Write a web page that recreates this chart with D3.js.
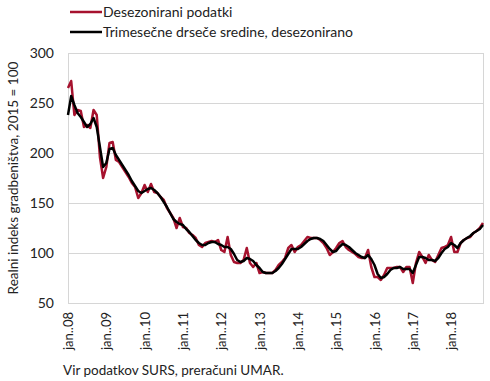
<!DOCTYPE html>
<html><head><meta charset="utf-8">
<script src="https://cdn.jsdelivr.net/npm/d3@7/dist/d3.min.js"></script>
<style>
html,body{margin:0;padding:0;background:#fff;}
svg text{font-family:Lato,"Noto Sans",sans-serif;fill:#222;}
</style></head>
<body><svg id="c" width="490" height="381"></svg>
<script>
const startYear = 2008;
const tickLabels = ["jan..08","jan..09","jan..10","jan..11","jan..12","jan..13","jan..14","jan..15","jan..16","jan..17","jan..18"];
const yTicks = [50,100,150,200,250,300];
const seriesNames = ["Desezonirani podatki","Trimesečne drseče sredine, desezonirano"];
const deseasonalized = [
265,272,238,243,242,226,228,225,243,238,196,175,
186,210,211,193,191,186,181,176,170,166,155,160,
168,161,169,161,160,156,153,145,140,135,125,135,
126,125,120,118,115,108,106,110,111,112,111,113,
103,101,116,98,91,90,90,93,105,90,86,90,
80,81,80,80,80,83,88,91,95,105,108,101,
106,108,112,116,115,115,115,113,110,105,98,101,
105,110,112,106,103,101,99,96,95,95,103,86,
76,76,73,78,85,85,85,86,86,81,86,86,
70,90,101,96,90,98,93,91,98,105,106,108,
116,101,101,110,113,115,116,120,122,125,130];
const movingAvg = [
238,257,248,240,236,231,226,229,235,226,206,186,
190,204,205,198,193,188,183,178,172,167,162,160,
162,164,165,163,160,156,151,146,140,134,131,129,
128,124,121,117,113,110,108,108,110,111,111,109,
108,106,106,104,99,93,91,92,95,94,92,88,
85,81,80,80,80,82,85,89,94,99,104,104,
104,106,109,112,114,115,115,114,112,108,104,101,
102,106,109,108,106,103,100,98,96,95,98,94,
88,79,75,76,79,83,85,85,86,84,84,84,
80,88,96,96,95,93,93,92,95,100,104,106,
110,108,105,110,113,115,117,120,122,124,128];

const svg = d3.select("#c");
const L=68,R=483,T=53,B=303;
const n = deseasonalized.length;
const x = d3.scaleLinear().domain([0,n-1]).range([L,R]);
const y = d3.scaleLinear().domain([50,300]).range([B,T]);
const grid="#d6d6d6";

// gridlines
svg.append("g").selectAll("line").data(yTicks).join("line")
  .attr("x1",L).attr("x2",R).attr("y1",d=>y(d)).attr("y2",d=>y(d))
  .attr("stroke",grid).attr("stroke-width",1).attr("shape-rendering","crispEdges");
// plot box
svg.append("rect").attr("x",L).attr("y",T).attr("width",R-L).attr("height",B-T)
  .attr("fill","none").attr("stroke",grid).attr("shape-rendering","crispEdges");

// y axis
const ya = svg.append("g").attr("transform",`translate(${L},0)`)
  .call(d3.axisLeft(y).tickValues(yTicks).tickSize(0).tickPadding(14));
ya.select(".domain").remove();
ya.selectAll("text").style("font-size","14px").attr("fill","#222");

// x axis
const xa = svg.append("g").attr("transform",`translate(0,${B})`)
  .call(d3.axisBottom(x).tickValues(d3.range(0,n,12)).tickSize(0)
    .tickFormat((d,i)=>tickLabels[i]));
xa.select(".domain").remove();
xa.selectAll("text").style("font-size","13px").attr("fill","#222")
  .attr("text-anchor","end").attr("transform","rotate(-90)")
  .attr("x",-9).attr("y",0).attr("dy","0.35em");

// lines
const line = d3.line().x((d,i)=>x(i)).y(d=>y(d));
svg.append("path").datum(deseasonalized).attr("d",line).attr("fill","none")
  .attr("stroke","#a6122e").attr("stroke-width",2.5).attr("stroke-linejoin","round");
svg.append("path").datum(movingAvg).attr("d",line).attr("fill","none")
  .attr("stroke","#000").attr("stroke-width",2.5).attr("stroke-linejoin","round");

// legend
const lg = svg.append("g");
[["#a6122e",12],["#000",32]].forEach((s,i)=>{
  lg.append("line").attr("x1",70).attr("x2",102).attr("y1",s[1]).attr("y2",s[1])
    .attr("stroke",s[0]).attr("stroke-width",2.5);
  lg.append("text").attr("x",103).attr("y",s[1]).attr("dy","0.35em")
    .style("font-size","14px").text(seriesNames[i]);
});

// y title
svg.append("text").attr("transform",`translate(13,${(T+B)/2}) rotate(-90)`)
  .attr("text-anchor","middle").attr("dy","0.35em").style("font-size","13.5px")
  .text("Realni indeks gradbeništva, 2015 = 100");

// source
svg.append("text").attr("x",63).attr("y",370).attr("dy","0.35em")
  .style("font-size","13.5px").text("Vir podatkov SURS, preračuni UMAR.");
</script></body></html>
